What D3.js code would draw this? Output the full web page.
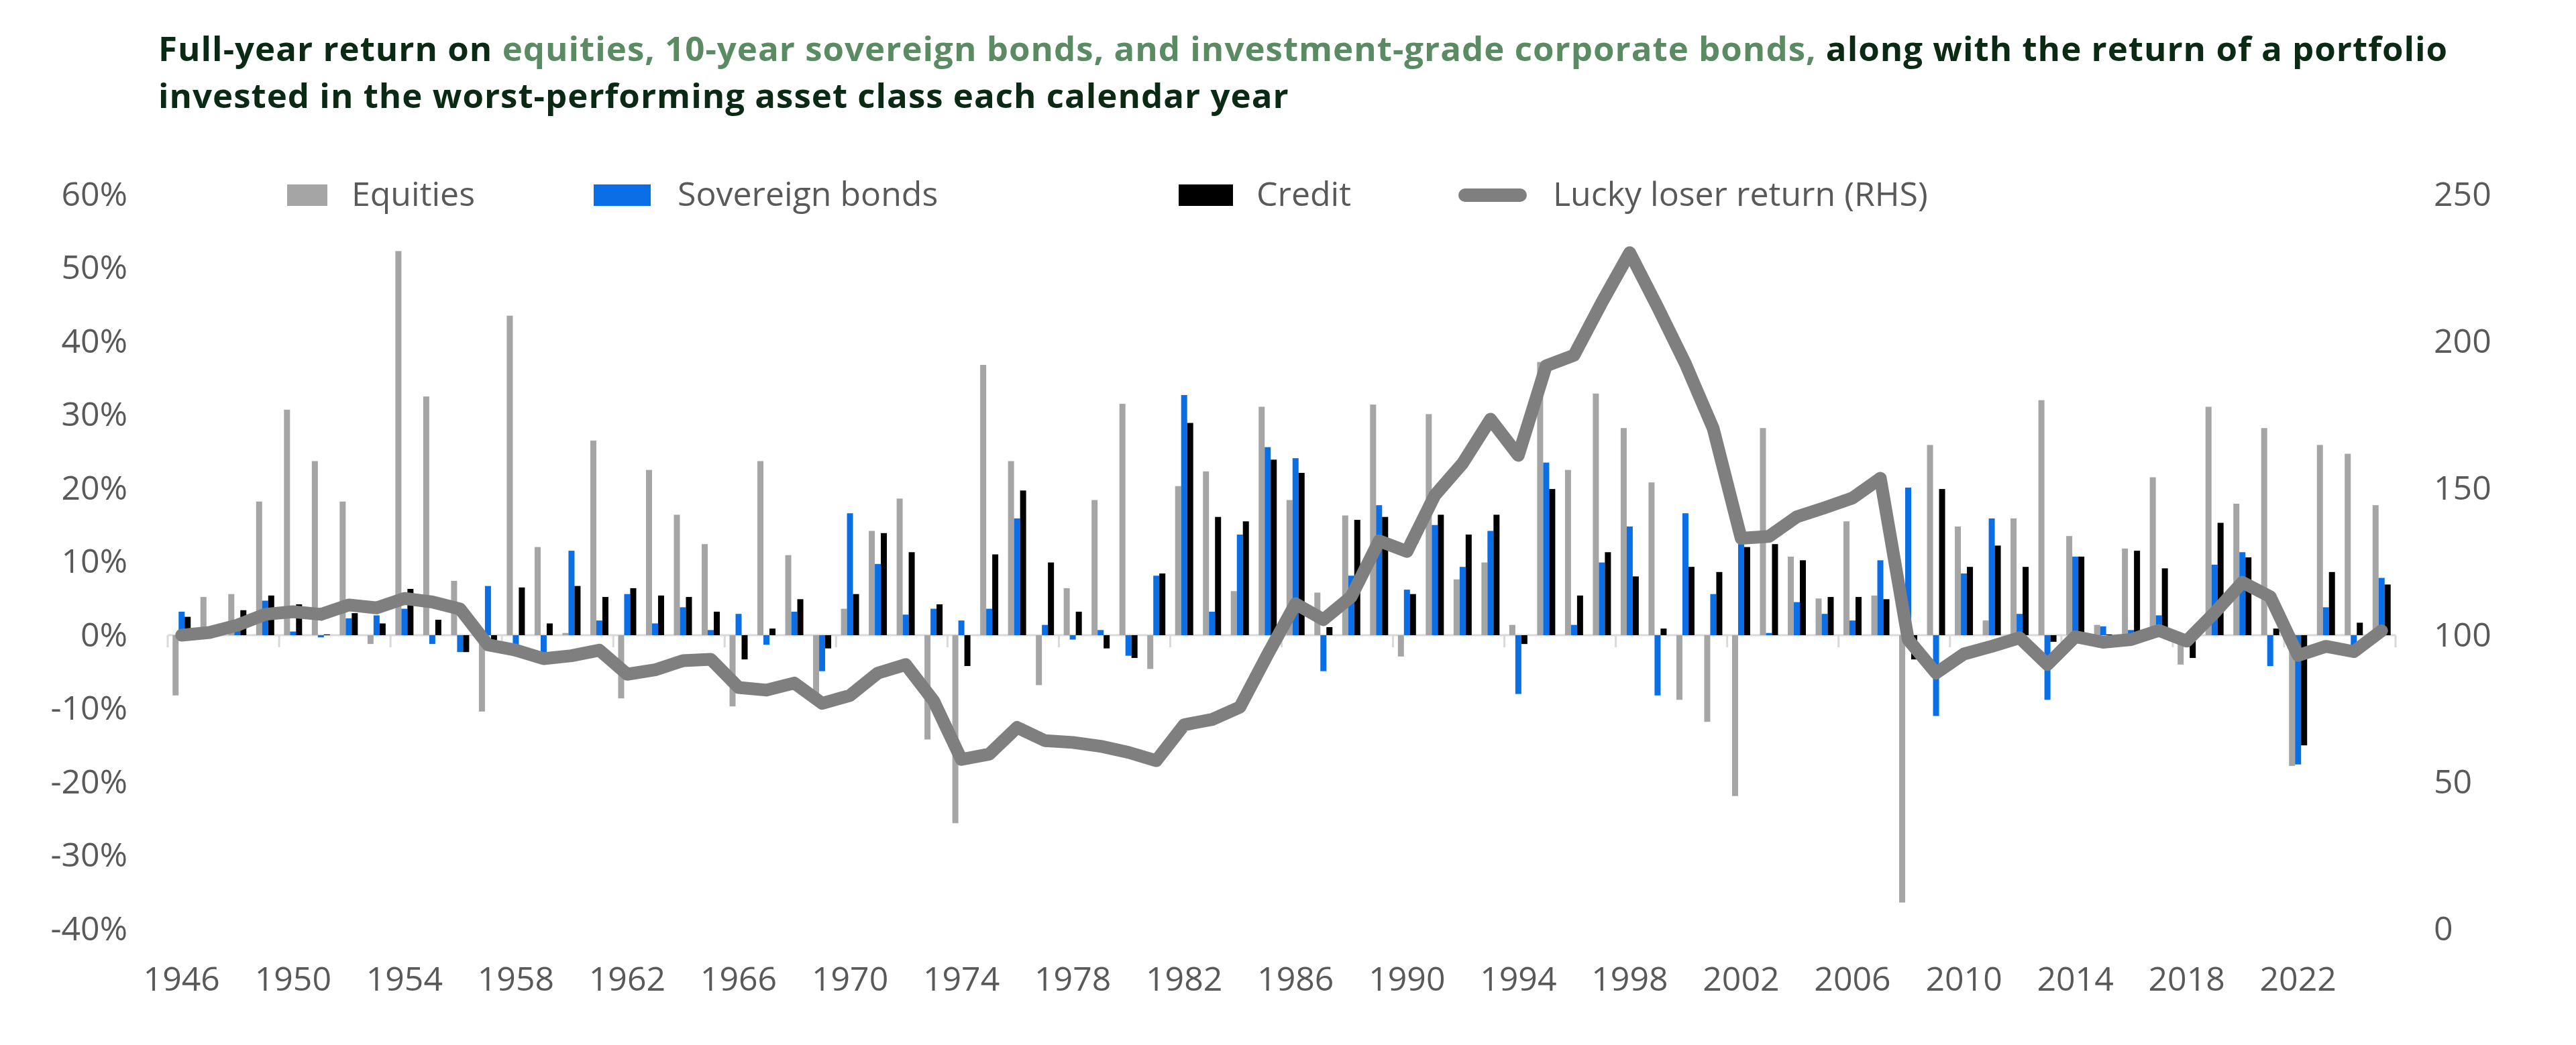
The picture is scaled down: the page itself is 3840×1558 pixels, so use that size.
<!DOCTYPE html>
<html>
<head>
<meta charset="utf-8">
<script src="https://cdn.jsdelivr.net/npm/d3@7"></script>
<style>
  body { margin: 0; background: #fff; }
  svg { display: block; font-family: "Open Sans", sans-serif; }
</style>
</head>
<body>
<div id="chart"></div>
<script>
// Full-year returns by asset class + lucky loser portfolio

const years = d3.range(1946, 2026);

const equities = [
  -8.2, 5.2, 5.6, 18.2, 30.7, 23.7, 18.2, -1.2, 52.3, 32.5,
  7.4, -10.4, 43.5, 12.0, 0.3, 26.5, -8.6, 22.5, 16.4, 12.4,
  -9.7, 23.7, 10.9, -8.5, 3.6, 14.2, 18.6, -14.2, -25.6, 36.8,
  23.7, -6.8, 6.4, 18.4, 31.5, -4.6, 20.3, 22.3, 6.0, 31.1,
  18.4, 5.8, 16.3, 31.4, -2.9, 30.1, 7.6, 9.9, 1.4, 37.2,
  22.5, 32.9, 28.2, 20.8, -8.8, -11.8, -21.9, 28.2, 10.7, 5.0,
  15.5, 5.4, -36.4, 25.9, 14.8, 2.0, 15.9, 32.0, 13.5, 1.4,
  11.8, 21.5, -4.0, 31.1, 17.9, 28.2, -17.8, 25.9, 24.7, 17.7
];

const sovereign = [
  3.2, 0.1, 2.1, 4.7, 0.5, -0.3, 2.3, 2.7, 3.6, -1.2,
  -2.3, 6.7, -1.3, -2.4, 11.5, 2.0, 5.6, 1.6, 3.8, 0.7,
  2.9, -1.3, 3.2, -4.9, 16.6, 9.7, 2.8, 3.6, 2.0, 3.6,
  15.9, 1.4, -0.6, 0.7, -2.8, 8.1, 32.7, 3.2, 13.7, 25.6,
  24.1, -4.9, 8.1, 17.7, 6.2, 15.0, 9.3, 14.2, -8.0, 23.5,
  1.4, 9.9, 14.8, -8.2, 16.6, 5.6, 12.4, 0.3, 4.5, 2.9,
  2.0, 10.2, 20.1, -11.0, 8.4, 15.9, 2.9, -8.8, 10.7, 1.2,
  0.7, 2.7, -0.1, 9.6, 11.3, -4.2, -17.6, 3.8, -1.5, 7.8
];

const credit = [
  2.5, 0.2, 3.4, 5.4, 4.2, 0.1, 3.0, 1.6, 6.3, 2.1,
  -2.3, -0.7, 6.5, 1.6, 6.7, 5.2, 6.4, 5.4, 5.2, 3.2,
  -3.3, 0.9, 4.9, -1.8, 5.6, 13.9, 11.3, 4.2, -4.2, 11.0,
  19.7, 9.9, 3.2, -1.8, -3.1, 8.4, 28.9, 16.1, 15.5, 23.9,
  22.1, 1.1, 15.7, 16.1, 5.6, 16.4, 13.7, 16.4, -1.2, 19.9,
  5.4, 11.3, 8.0, 0.9, 9.3, 8.6, 12.0, 12.4, 10.2, 5.2,
  5.2, 4.9, -3.3, 19.9, 9.3, 12.2, 9.3, -0.9, 10.7, 0.1,
  11.5, 9.1, -3.1, 15.3, 10.6, 0.9, -15.0, 8.6, 1.7, 6.9
];

const luckyLoser = [
  100, 100.9, 103.4, 107.1, 108, 107.1, 110.3, 109.3, 112.5, 111.3,
  108.9, 96.7, 94.9, 92, 93, 94.9, 86.7, 88.2, 91.3, 91.8,
  82.2, 81.3, 83.7, 76.8, 79.5, 87.1, 90, 77.7, 57.7, 59.5,
  68.6, 64.1, 63.5, 62.2, 60.1, 57.3, 69.5, 71.3, 75.5, 93.5,
  110.7, 105.3, 113.1, 132.1, 128.5, 147.6, 158.5, 173.5, 161.2, 191.7,
  195.3, 213.3, 230.2, 211.7, 192.4, 170.3, 133, 133.6, 140.3, 143.4,
  146.7, 153.4, 98.5, 87.1, 93.6, 96.2, 99.1, 90, 99.5, 97.6,
  98.5, 101.6, 98, 107.6, 118, 113.1, 93.1, 96.2, 94.4, 101.5
];

const seriesKeys = ['Equities', 'Sovereign bonds', 'Credit'];
const lineLabel = 'Lucky loser return (RHS)';
const leftTicks = [60, 50, 40, 30, 20, 10, 0, -10, -20, -30, -40];
const rightTicks = [250, 200, 150, 100, 50, 0];
const yearTicks = years.filter((y) => (y - 1946) % 4 === 0);

const titleLine1 = [
  { text: 'Full-year return on', color: '#0b2a13' },
  { text: 'equities, 10-year sovereign bonds, and investment-grade corporate bonds,', color: '#5b8b62' },
  { text: 'along with the return of a portfolio', color: '#0b2a13' },
];
const titleLine2 = 'invested in the worst-performing asset class each calendar year';

const VIS_CONFIG = {
  width: 3840,
  height: 1558,
  left: 250,
  right: 3571,
  top: 290,
  bottom: 1385,
  textColor: '#595959',
  fontSize: 50,
  titleSize: 51,
  titleSpacing: 1,
};

const COLORS = {
  Equities: '#a5a5a5',
  'Sovereign bonds': '#0a6ee6',
  Credit: '#000000',
  line: '#7f7f7f',
};

function drawTitle(svg) {
  // each coloured run is its own text element, separated by a space width
  const spaceW = VIS_CONFIG.titleSize * 0.26 + VIS_CONFIG.titleSpacing;
  let cx = 236;
  titleLine1.forEach((seg) => {
    const t = svg
      .append('text')
      .attr('x', cx)
      .attr('y', 91)
      .attr('font-size', VIS_CONFIG.titleSize)
      .attr('font-weight', 700)
      .attr('letter-spacing', VIS_CONFIG.titleSpacing)
      .attr('fill', seg.color)
      .text(seg.text);
    cx += t.node().getComputedTextLength() + spaceW;
  });

  svg
    .append('text')
    .attr('x', 236)
    .attr('y', 161)
    .attr('font-size', VIS_CONFIG.titleSize)
    .attr('font-weight', 700)
    .attr('letter-spacing', VIS_CONFIG.titleSpacing)
    .attr('fill', '#0b2a13')
    .text(titleLine2);
}

function initChart() {
  const container = d3.select('#chart');
  container.html('');

  const svg = container
    .append('svg')
    .attr('width', VIS_CONFIG.width)
    .attr('height', VIS_CONFIG.height);

  drawTitle(svg);

  // scales
  const x = d3
    .scaleBand()
    .domain(years)
    .range([VIS_CONFIG.left, VIS_CONFIG.right])
    .paddingInner(0.35)
    .paddingOuter(0.175);

  const x1 = d3.scaleBand().domain(seriesKeys).range([0, x.bandwidth()]);

  const yL = d3.scaleLinear().domain([-40, 60]).range([VIS_CONFIG.bottom, VIS_CONFIG.top]);
  const yR = d3.scaleLinear().domain([0, 250]).range([VIS_CONFIG.bottom, VIS_CONFIG.top]);

  // left axis
  const gL = svg
    .append('g')
    .attr('transform', 'translate(190,0)')
    .call(d3.axisLeft(yL).tickValues(leftTicks).tickSize(0).tickPadding(0).tickFormat((d) => d + '%'));
  gL.select('.domain').remove();

  // right axis
  const gR = svg
    .append('g')
    .attr('transform', 'translate(3628,0)')
    .call(d3.axisRight(yR).tickValues(rightTicks).tickSize(0).tickPadding(0));
  gR.select('.domain').remove();

  // bottom axis labels
  const gB = svg
    .append('g')
    .attr('transform', 'translate(0,1441)')
    .call(d3.axisBottom(x).tickValues(yearTicks).tickSize(0).tickPadding(0));
  gB.select('.domain').remove();

  svg
    .selectAll('.tick text')
    .attr('font-family', '"Open Sans", sans-serif')
    .attr('font-size', VIS_CONFIG.fontSize)
    .attr('fill', VIS_CONFIG.textColor);

  // zero line with category ticks
  const y0 = yL(0);
  const half = (x.step() * x.paddingInner()) / 2;
  svg
    .append('line')
    .attr('x1', VIS_CONFIG.left)
    .attr('x2', VIS_CONFIG.right)
    .attr('y1', y0)
    .attr('y2', y0)
    .attr('stroke', '#d9d9d9')
    .attr('stroke-width', 3);

  const tickXs = yearTicks.map((y) => x(y) - half).concat([VIS_CONFIG.right]);
  svg
    .selectAll('.cat-tick')
    .data(tickXs)
    .join('line')
    .attr('class', 'cat-tick')
    .attr('x1', (d) => d)
    .attr('x2', (d) => d)
    .attr('y1', y0)
    .attr('y2', y0 + 18)
    .attr('stroke', '#d9d9d9')
    .attr('stroke-width', 3);

  // bars
  const seriesData = {
    Equities: equities,
    'Sovereign bonds': sovereign,
    Credit: credit,
  };

  seriesKeys.forEach((key) => {
    svg
      .append('g')
      .selectAll('rect')
      .data(years.map((yr, i) => ({ year: yr, value: seriesData[key][i] })))
      .join('rect')
      .attr('x', (d) => x(d.year) + x1(key))
      .attr('width', x1.bandwidth())
      .attr('y', (d) => yL(Math.max(0, d.value)))
      .attr('height', (d) => Math.abs(yL(d.value) - y0))
      .attr('fill', COLORS[key]);
  });

  // lucky loser line
  const line = d3
    .line()
    .x((d) => x(d.year) + x.bandwidth() / 2)
    .y((d) => yR(d.value));

  svg
    .append('path')
    .datum(years.map((yr, i) => ({ year: yr, value: luckyLoser[i] })))
    .attr('d', line)
    .attr('fill', 'none')
    .attr('stroke', COLORS.line)
    .attr('stroke-width', 19)
    .attr('stroke-linejoin', 'round')
    .attr('stroke-linecap', 'round');

  // legend
  const legendItems = [
    { key: 'Equities', sx: 428, sw: 60, tx: 524 },
    { key: 'Sovereign bonds', sx: 885, sw: 85, tx: 1010 },
    { key: 'Credit', sx: 1757, sw: 81, tx: 1873 },
  ];

  legendItems.forEach((d) => {
    svg
      .append('rect')
      .attr('x', d.sx)
      .attr('y', 275)
      .attr('width', d.sw)
      .attr('height', 32)
      .attr('fill', COLORS[d.key]);
    svg
      .append('text')
      .attr('x', d.tx)
      .attr('y', 307)
      .attr('font-size', VIS_CONFIG.fontSize)
      .attr('fill', VIS_CONFIG.textColor)
      .text(d.key);
  });

  svg
    .append('line')
    .attr('x1', 2184)
    .attr('x2', 2266)
    .attr('y1', 291)
    .attr('y2', 291)
    .attr('stroke', COLORS.line)
    .attr('stroke-width', 20)
    .attr('stroke-linecap', 'round');
  svg
    .append('text')
    .attr('x', 2315)
    .attr('y', 307)
    .attr('font-size', VIS_CONFIG.fontSize)
    .attr('fill', VIS_CONFIG.textColor)
    .text(lineLabel);
}

initChart();
</script>
</body>
</html>
